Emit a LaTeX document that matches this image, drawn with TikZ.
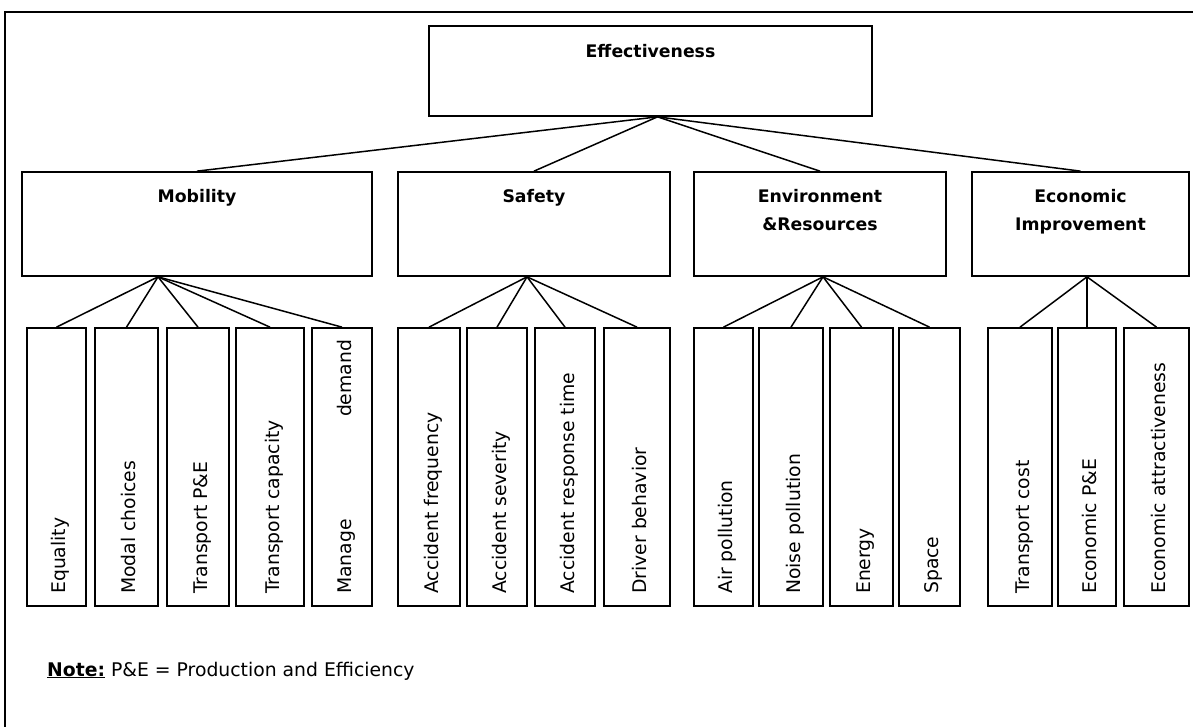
\documentclass[tikz,border=0pt]{standalone}
\usepackage{fontspec}
\setmainfont{DejaVu Sans}
\usetikzlibrary{positioning}

\tikzset{
  box/.style={draw, line width=1.7pt, inner sep=0pt},
  head/.style={font=\bfseries\fontsize{17.3}{28}\selectfont, inner sep=0pt, align=center},
  item/.style={font=\fontsize{18.8}{22}\selectfont, rotate=90, anchor=base west, inner sep=0pt},
  link/.style={line width=1.5pt}
}

\begin{document}
\begin{tikzpicture}[x=1pt,y=-1pt]
\useasboundingbox (0,0) rectangle (1193,727);
% frame, runs off the right and bottom edges
\draw[line width=1.7pt] (5,12) rectangle (1210,745);

% top
\node[box, minimum width=443pt, minimum height=90pt] (eff) at (650.5,71) {};
\node[head, below=19pt of eff.north] {Effectiveness};

% second level
\foreach \n/\l/\r/\t in {mob/22/372/Mobility, saf/398/670/Safety,
    env/694/946/{Environment\\\&Resources}, eco/972/1189/{Economic\\Improvement}}{
  \node[box, minimum width={(\r-\l)*1pt}, minimum height=104pt] (\n) at ({(\l+\r)/2},224) {};
  \node[head, below=18pt of \n.north] {\t};
}

% third level
\foreach \n/\l/\r/\t in {equ/27/86/Equality, mod/95/158/Modal choices,
    tpe/167/229/Transport P\&E, tcap/236/304/Transport capacity,
    mng/312/372/{\makebox[254pt][l]{Manage\hfill demand}},
    afr/398/460/Accident frequency, asv/467/527/Accident severity,
    art/535/595/Accident response time, drv/604/670/Driver behavior,
    air/694/753/Air pollution, noi/759/823/Noise pollution,
    ene/830/893/Energy, spc/899/960/Space,
    tco/988/1052/Transport cost, epe/1058/1116/Economic P\&E,
    eat/1124/1189/Economic attractiveness}{
  \node[box, minimum width={(\r-\l)*1pt}, minimum height=278pt] (\n) at ({(\l+\r)/2},467) {};
  \node[item] at ({(\l+\r)/2+9},594) {\t};
}

% links
\foreach \n in {mob,saf,env,eco} \draw[link] ([xshift=7pt]eff.south) -- (\n.north);
\foreach \n in {equ,mod,tpe,tcap,mng} \draw[link] ([xshift=-39pt]mob.south) -- (\n.north);
\foreach \n in {afr,asv,art,drv} \draw[link] ([xshift=-7pt]saf.south) -- (\n.north);
\foreach \n in {air,noi,ene,spc} \draw[link] ([xshift=3pt]env.south) -- (\n.north);
\foreach \n in {tco,epe,eat} \draw[link] ([xshift=6.5pt]eco.south) -- (\n.north);

\node[anchor=base west, inner sep=0pt, font=\fontsize{18.8}{22}\selectfont] (note) at (47,676)
  {\underline{\textbf{Note:}} P\&E = Production and Efficiency};

\end{tikzpicture}
\end{document}
